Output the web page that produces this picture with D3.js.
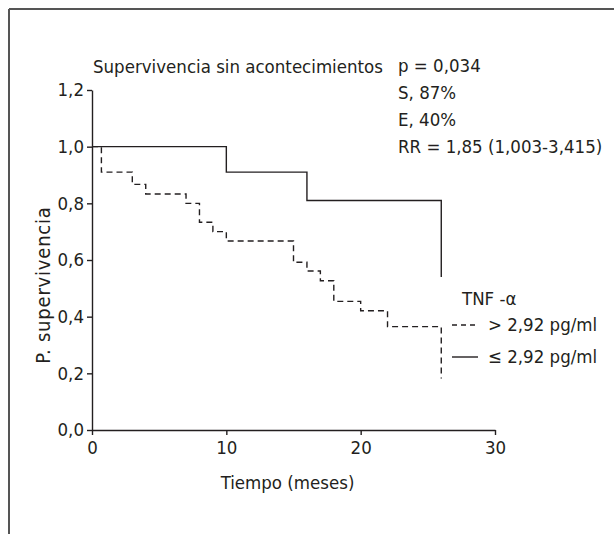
<!DOCTYPE html>
<html>
<head>
<meta charset="utf-8">
<script src="https://cdn.jsdelivr.net/npm/d3@7"></script>
<style>
  body { margin: 0; background: #fff; }
  svg text { font-family: "Liberation Sans Narrow", "DejaVu Sans Condensed", "Liberation Sans", sans-serif; fill: #231f20; }
</style>
</head>
<body>
<div id="chart"></div>
<script>
// Kaplan-Meier steps (months, survival probability)
var highTime = [0, 0.7, 3, 4, 7, 8, 9, 10, 15, 16, 17, 18, 20, 22, 26];
var highSurv = [1.0, 0.91, 0.867, 0.833, 0.80, 0.733, 0.70, 0.667, 0.592, 0.561, 0.527, 0.454, 0.421, 0.365, 0.182];
var lowTime = [0, 10, 16, 26];
var lowSurv = [1.0, 0.91, 0.81, 0.54];

var yTicks = [0, 0.2, 0.4, 0.6, 0.8, 1.0, 1.2];
var xTicks = [0, 10, 20, 30];
var statLines = ["p = 0,034", "S, 87%", "E, 40%", "RR = 1,85 (1,003-3,415)"];
var legendLabels = ["> 2,92 pg/ml", "\u2264 2,92 pg/ml"];

var svgWidth = 614;
var svgHeight = 534;
var fontSize = 18.5;

var svg = d3.select("#chart")
  .append("svg")
  .attr("width", svgWidth)
  .attr("height", svgHeight);

// frame lines (top and left only visible)
svg.append("line")
  .attr("x1", 9).attr("y1", 9).attr("x2", svgWidth).attr("y2", 9)
  .attr("stroke", "#555").attr("stroke-width", 2);
svg.append("line")
  .attr("x1", 9).attr("y1", 9).attr("x2", 9).attr("y2", svgHeight)
  .attr("stroke", "#555").attr("stroke-width", 2);

var x = d3.scaleLinear().domain([0, 30]).range([92, 495]);
var y = d3.scaleLinear().domain([0, 1.2]).range([430, 90]);

var fmt = d => d3.format(".1f")(d).replace(".", ",");

var xAxis = svg.append("g")
  .attr("transform", `translate(0, ${y(0)})`)
  .call(d3.axisBottom(x).tickValues(xTicks).tickSize(5).tickPadding(6).tickSizeOuter(0));
var yAxis = svg.append("g")
  .attr("transform", `translate(${x(0)}, 0)`)
  .call(d3.axisLeft(y).tickValues(yTicks).tickFormat(fmt).tickSize(5).tickPadding(3).tickSizeOuter(0));

[xAxis, yAxis].forEach(function(g) {
  g.selectAll("path, line").attr("stroke", "#231f20").attr("stroke-width", 1.4);
  g.selectAll("text").style("font-size", fontSize + "px").attr("fill", "#231f20");
  g.attr("font-family", null);
});

// curves
var line = d3.line()
  .x(d => x(d[0]))
  .y(d => y(d[1]))
  .curve(d3.curveStepAfter);

var highData = highTime.map((t, i) => [t, highSurv[i]]);
var lowData = lowTime.map((t, i) => [t, lowSurv[i]]);

svg.append("path")
  .datum(lowData)
  .attr("d", line)
  .attr("fill", "none")
  .attr("stroke", "#231f20")
  .attr("stroke-width", 1.4);

svg.append("path")
  .datum(highData)
  .attr("d", line)
  .attr("fill", "none")
  .attr("stroke", "#231f20")
  .attr("stroke-width", 1.4)
  .attr("stroke-dasharray", "6,4");

// titles and labels
svg.append("text")
  .attr("x", 93).attr("y", 73)
  .style("font-size", fontSize + "px")
  .text("Supervivencia sin acontecimientos");

svg.append("g").selectAll("text")
  .data(statLines)
  .enter()
  .append("text")
  .attr("x", 398)
  .attr("y", (d, i) => 72 + i * 27)
  .style("font-size", fontSize + "px")
  .text(d => d);

svg.append("text")
  .attr("transform", "rotate(-90)")
  .attr("x", -285).attr("y", 50)
  .attr("text-anchor", "middle")
  .style("font-size", "20px")
  .style("letter-spacing", "0.8px")
  .text("P. supervivencia");

svg.append("text")
  .attr("x", (x(0) + x(30)) / 2 - 6).attr("y", 489)
  .attr("text-anchor", "middle")
  .style("font-size", fontSize + "px")
  .text("Tiempo (meses)");

// legend
svg.append("text")
  .attr("x", 462).attr("y", 305)
  .style("font-size", fontSize + "px")
  .text("TNF -\u03b1");

var legend = svg.append("g").selectAll("g")
  .data(legendLabels)
  .enter()
  .append("g")
  .attr("transform", (d, i) => `translate(452, ${325 + i * 32})`);

legend.append("line")
  .attr("x1", 0).attr("x2", 26)
  .attr("y1", 0).attr("y2", 0)
  .attr("stroke", "#231f20")
  .attr("stroke-width", 1.4)
  .attr("stroke-dasharray", (d, i) => i === 0 ? "5,4" : null);

legend.append("text")
  .attr("x", 36).attr("y", 6)
  .style("font-size", fontSize + "px")
  .text(d => d);
</script>
</body>
</html>
